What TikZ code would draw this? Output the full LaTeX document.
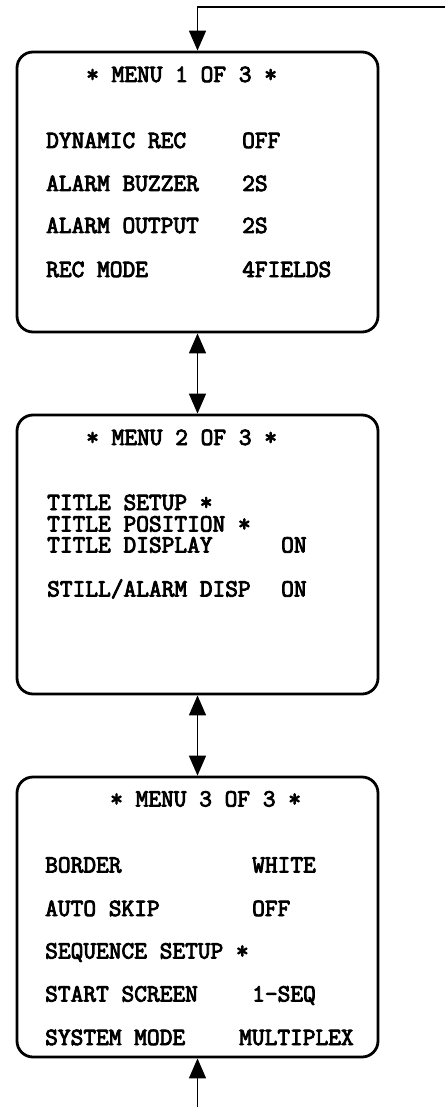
\documentclass[tikz,border=0pt]{standalone}
\usepackage{fontspec}
\newfontfamily\menufont{Latin Modern Mono}[FakeBold=3.5]
\usetikzlibrary{arrows.meta}

\tikzset{
  menubox/.style={draw, line width=2.8pt, rounded corners=16pt, minimum width=361pt, inner sep=0pt},
  menutext/.style={anchor=base west, inner sep=0pt, text height=14pt, text depth=0pt, font=\menufont\fontsize{24.7}{28}\selectfont},
  link/.style={line width=1.5pt, -{Triangle[length=20pt, width=17pt]}},
  twoway/.style={line width=1.5pt, {Triangle[length=20pt, width=17pt]}-{Triangle[length=20pt, width=17pt]}}
}

\begin{document}
\begin{tikzpicture}[x=1pt, y=-1pt]
\useasboundingbox (0, 0) rectangle (445, 1107);
\node[menubox, minimum height=280pt] (menu1) at (197.5, 192) {};
\node[menubox, minimum height=279pt] (menu2) at (197.5, 554.5) {};
\node[menubox, minimum height=280pt] (menu3) at (197.5, 917) {};
\coordinate (loopin) at (445, 7);
\coordinate (loopout) at (197.5, 1107);
\draw[link] (loopin) -| (menu1.north);
\draw[twoway] (menu1.south) -- (menu2.north);
\draw[twoway] (menu2.south) -- (menu3.north);
\draw[link] (loopout) -- (menu3.south);
\node[menutext] (title1) at (86, 82) {* MENU 1 OF 3 *};
\node[menutext] (dynrec) at (46, 148) {DYNAMIC REC};
\node[menutext] (dynrecval) at (242, 148) {OFF};
\node[menutext] (buzzer) at (46, 191) {ALARM BUZZER};
\node[menutext] (buzzerval) at (242, 191) {2S};
\node[menutext] (output) at (46, 233) {ALARM OUTPUT};
\node[menutext] (outputval) at (242, 233) {2S};
\node[menutext] (recmode) at (46, 277) {REC MODE};
\node[menutext] (recmodeval) at (242, 277) {4FIELDS};
\node[menutext] (title2) at (86, 445) {* MENU 2 OF 3 *};
\node[menutext] (tsetup) at (47, 510) {TITLE SETUP *};
\node[menutext] (tpos) at (47, 531.5) {TITLE POSITION *};
\node[menutext] (tdisp) at (47, 552.5) {TITLE DISPLAY};
\node[menutext] (tdispval) at (281, 552.5) {ON};
\node[menutext] (still) at (47, 596.5) {STILL/ALARM DISP};
\node[menutext] (stillval) at (281, 596.5) {ON};
\node[menutext] (title3) at (110, 806.5) {* MENU 3 OF 3 *};
\node[menutext] (border) at (45, 872.5) {BORDER};
\node[menutext] (borderval) at (252, 872.5) {WHITE};
\node[menutext] (skip) at (45, 916) {AUTO SKIP};
\node[menutext] (skipval) at (252, 916) {OFF};
\node[menutext] (seq) at (45, 958.5) {SEQUENCE SETUP *};
\node[menutext] (start) at (45, 1001.5) {START SCREEN};
\node[menutext] (startval) at (252, 1001.5) {1-SEQ};
\node[menutext] (sysmode) at (45, 1045) {SYSTEM MODE};
\node[menutext] (sysmodeval) at (239, 1045) {MULTIPLEX};
\end{tikzpicture}
\end{document}
